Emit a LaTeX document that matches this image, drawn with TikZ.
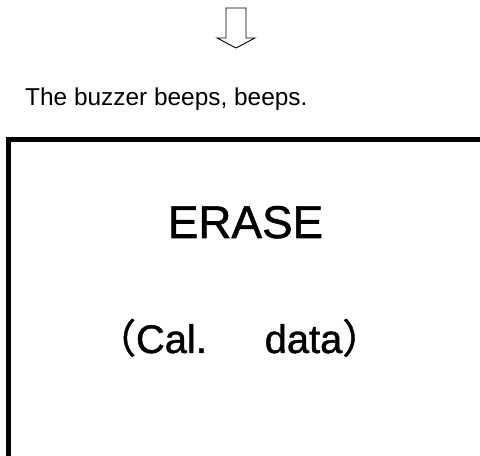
\documentclass[tikz,border=0pt]{standalone}
\usepackage{fontspec}
\setmainfont{Liberation Sans}
\newfontfamily\panelfont[FakeBold=1.2]{Liberation Sans}
\newfontfamily\cjk[FakeBold=1.2]{Noto Sans CJK JP}
\usetikzlibrary{positioning}
\definecolor{panelBlack}{HTML}{000000}

\begin{document}
\begin{tikzpicture}[x=1bp,y=1bp,
    note/.style={font=\fontsize{24.5}{29}\selectfont,inner sep=0pt,anchor=base west},
    bigText/.style={font=\panelfont\fontsize{46}{54}\selectfont,inner sep=0pt,anchor=base},
    midText/.style={font=\panelfont\fontsize{40}{48}\selectfont,inner sep=0pt,anchor=base west},
    frame/.style={line width=5bp,panelBlack,line join=miter}]
    \useasboundingbox (0,0) rectangle (480,456);
    \clip (0,0) rectangle (480,456);

    % hollow down arrow
    \draw[line width=0.9bp,line join=miter]
      (226,448)--(246,448)--(246,418)--(255,418)--(236,408)
      --(217,418)--(226,418)--cycle;

    \node[note] (beep) at (25,350) {The buzzer beeps, beeps.};

    % display panel
    \coordinate (panelBL) at (8.5,-20);
    \coordinate (panelTR) at (482,316.5);
    \draw[frame] (panelBL) |- (panelTR) -- (panelTR|-panelBL);

    \node[bigText] (erase) at (245.5,218) {ERASE};
    \node[midText] (calData) at (96,103)
      {{\cjk （}Cal.{\cjk 　}\kern18bp data{\cjk ）}};
  \end{tikzpicture}
\end{document}
